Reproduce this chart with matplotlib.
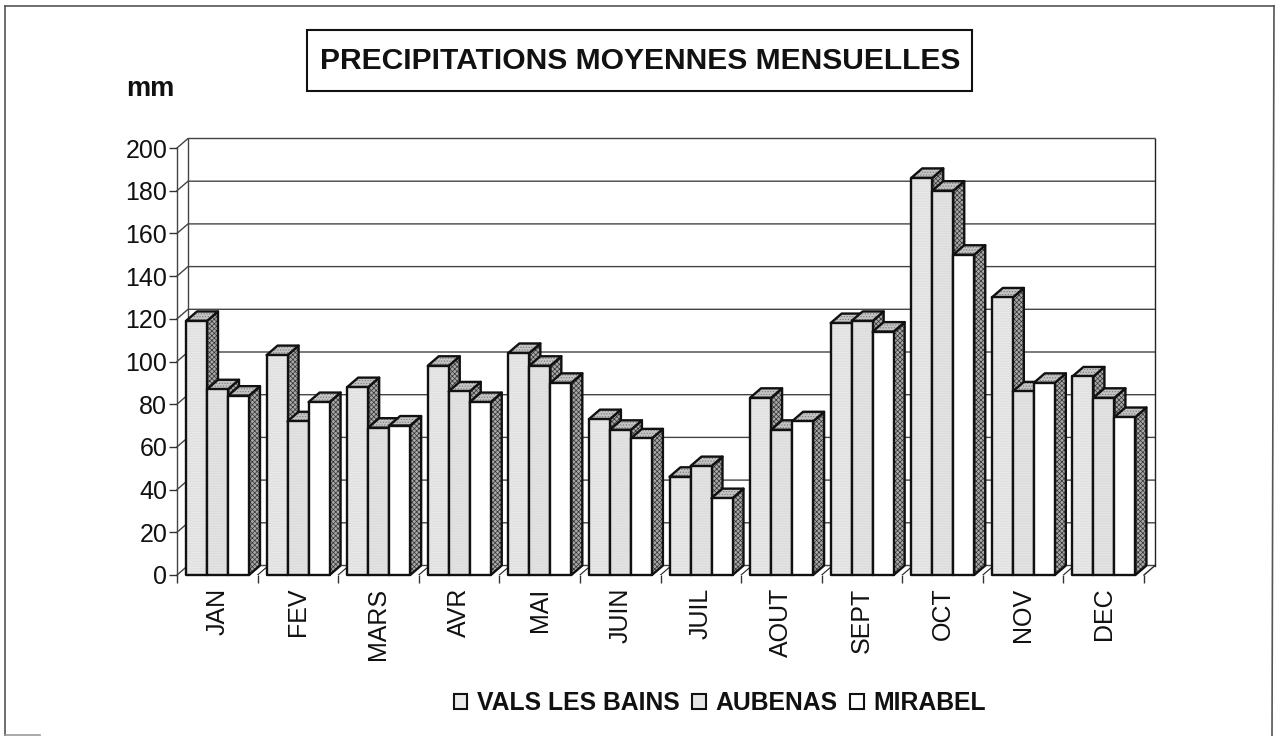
import matplotlib
matplotlib.use("Agg")
import matplotlib.pyplot as plt
from matplotlib.patches import Rectangle
from matplotlib.lines import Line2D

plt.rcParams['font.family'] = ['Liberation Sans', 'DejaVu Sans']
plt.rcParams['hatch.linewidth'] = 0.5

months = ["JAN", "FEV", "MARS", "AVR", "MAI", "JUIN", "JUIL", "AOUT", "SEPT", "OCT", "NOV", "DEC"]
vals_les_bains = [119, 103, 88, 98, 104, 73, 46, 83, 118, 186, 130, 93]
aubenas = [87, 72, 69, 86, 98, 68, 51, 68, 119, 180, 86, 83]
mirabel = [84, 81, 70, 81, 90, 64, 36, 72, 114, 150, 90, 74]
series_names = ["VALS LES BAINS", "AUBENAS", "MIRABEL"]
y_ticks = list(range(0, 201, 20))

W, H = 1278, 736
fig = plt.figure(figsize=(W / 100, H / 100), dpi=100, facecolor="white")
L, R, T, B = 177, 1144, 148, 575
ax = fig.add_axes([L / W, 1 - B / H, (R - L) / W, (B - T) / H])
ax.set_xlim(0, 12)
ax.set_ylim(0, 200)
ax.patch.set_visible(False)
for s in ax.spines.values():
    s.set_visible(False)

px_x = 12 / (R - L)
px_y = 200 / (B - T)
DX = 11 * px_x
DY = 9.5 * px_y
BW = 21 * px_x
GAP = 9 * px_x
EDGE = "#111111"
GRID = "#444444"

# 3D walls and gridlines
for v in y_ticks:
    ax.plot([0, DX, 12 + DX], [v, v + DY, v + DY], color=GRID, lw=1.0, clip_on=False, zorder=1)
ax.plot([DX, DX], [DY, 200 + DY], color=GRID, lw=1.0, clip_on=False, zorder=1)
ax.plot([12 + DX, 12 + DX], [DY, 200 + DY], color="#222222", lw=1.0, clip_on=False, zorder=1)
ax.plot([12, 12 + DX], [0, DY], color="#222222", lw=1.0, clip_on=False, zorder=1)
for i in range(1, 12):
    ax.plot([i, i + DX], [0, DY], color="#222222", lw=0.8, zorder=1)
ax.plot([0, 0], [0, 200], color=GRID, lw=1.0, clip_on=False, zorder=1)

ax.set_yticks(y_ticks)
ax.set_xticks(range(13))
ax.set_xticklabels([])
ax.tick_params(axis="both", length=5.5, width=1.0, color="#333333")
ax.tick_params(axis="y", labelsize=18, pad=1.5, labelcolor="#111111")

faces = ["#ececec", "#e6e6e6", "#ffffff"]
all_series = [vals_les_bains, aubenas, mirabel]


def hatched(xs, ys, face, hatch, hcolor, z):
    ax.fill(xs, ys, facecolor=face, edgecolor=hcolor, hatch=hatch, lw=0, zorder=z, clip_on=False)
    ax.fill(xs, ys, facecolor="none", edgecolor=EDGE, lw=1.7, zorder=z + 0.1, clip_on=False, joinstyle="round")


z = 3
for m in range(len(months)):
    for k, series in enumerate(all_series):
        v = series[m]
        x0 = m + GAP + k * BW
        x1 = x0 + BW
        # side face
        hatched([x1, x1 + DX, x1 + DX, x1], [0, DY, v + DY, v], "#a8a8a8", "xxxxxxx", "#333333", z)
        # top face
        hatched([x0, x1, x1 + DX, x0 + DX], [v, v, v + DY, v + DY], "#c4c4c4", "......", "#777777", z + 0.2)
        # front face
        if k < 2:
            hatched([x0, x1, x1, x0], [0, 0, v, v], faces[k], "..........", "#d2d2d2", z + 0.4)
        else:
            hatched([x0, x1, x1, x0], [0, 0, v, v], faces[k], None, "#ffffff", z + 0.4)
        z += 1

for i, name in enumerate(months):
    ax.annotate(name, xy=(i + 0.5, 0), xytext=(0, -9), textcoords="offset points",
                rotation=90, ha="center", va="top", fontsize=18, color="#111111")

# outer frame
frame = "#555555"
fig.add_artist(Line2D([5 / W, 5 / W], [1 - 6 / H, 1 - 735 / H], color=frame, lw=1.2))
fig.add_artist(Line2D([5 / W, 1274 / W], [1 - 6 / H, 1 - 6 / H], color=frame, lw=1.2))
fig.add_artist(Line2D([1274 / W, 1272 / W], [1 - 6 / H, 1 - 736 / H], color=frame, lw=1.2))
fig.add_artist(Line2D([5 / W, 40 / W], [1 - 735 / H, 1 - 735 / H], color="#999999", lw=1.2))

# title box
fig.add_artist(Rectangle((307 / W, 1 - 91 / H), 665 / W, 61 / H, transform=fig.transFigure,
                         facecolor="white", edgecolor="#111111", lw=1.5))
fig.text(640 / W, 1 - 61 / H, "PRECIPITATIONS MOYENNES MENSUELLES", ha="center", va="center",
         fontsize=21.6, fontweight="bold", color="#111111")
fig.text(126 / W, 1 - 96 / H, "mm", ha="left", va="baseline", fontsize=19.5, fontweight="bold", color="#111111")

# legend
handles = [Rectangle((0, 0), 1, 1, facecolor=f, edgecolor="#111111", lw=1.5) for f in ["#ececec", "#e6e6e6", "#ffffff"]]
fig.legend(handles, series_names, loc="center", bbox_to_anchor=(720 / W, 1 - 703 / H), ncol=3, frameon=False,
           prop={"size": 17.8, "weight": "bold"}, handlelength=0.55, handleheight=0.55, handletextpad=0.4,
           columnspacing=0.5, borderpad=0, labelcolor="#111111")

fig.savefig("out.png", dpi=100, facecolor="white")
